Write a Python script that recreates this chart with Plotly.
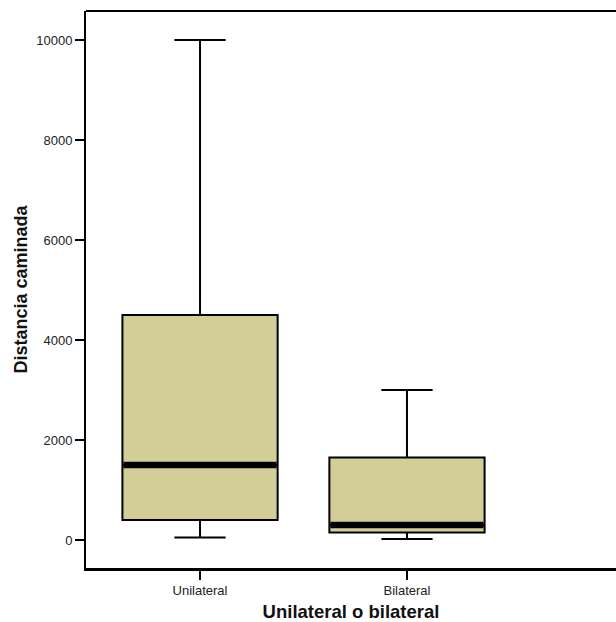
import plotly.graph_objects as go

categories = ["Unilateral", "Bilateral"]
lower_whisker = [50, 20]
q1 = [400, 150]
median = [1500, 300]
q3 = [4500, 1650]
upper_whisker = [10000, 3000]
y_ticks = [0, 2000, 4000, 6000, 8000, 10000]

fill = "#D3CE98"
box_w = 0.75
font = "Liberation Sans, Arial, sans-serif"

fig = go.Figure()
for i, c in enumerate(categories):
    fig.add_trace(go.Box(
        x=[i], q1=[q1[i]], median=[median[i]], q3=[q3[i]],
        lowerfence=[lower_whisker[i]], upperfence=[upper_whisker[i]],
        width=box_w, whiskerwidth=0.33, fillcolor=fill,
        line=dict(color="black", width=2), boxpoints=False,
        showlegend=False, hoverinfo="skip", name=c,
    ))
    fig.add_trace(go.Scatter(
        x=[i - box_w / 2 + 0.005, i + box_w / 2 - 0.005], y=[median[i], median[i]],
        mode="lines", line=dict(color="black", width=6.5),
        showlegend=False, hoverinfo="skip",
    ))

fig.update_layout(
    width=616, height=622,
    margin=dict(l=86, r=0, t=11, b=54),
    paper_bgcolor="white", plot_bgcolor="white",
    font=dict(family=font, color="#111"),
    shapes=[dict(type="line", xref="paper", yref="paper", x0=0, x1=1, y0=1, y1=1,
                 line=dict(color="black", width=2))],
)
fig.update_xaxes(
    range=[-0.551, 2.010], tickvals=[0, 1], ticktext=categories,
    showline=True, linecolor="black", linewidth=2.5,
    ticks="outside", ticklen=9, tickwidth=1.5, tickcolor="black",
    tickfont=dict(size=13, family=font, color="#222"),
    showgrid=False, zeroline=False,
    title=dict(text="<b>Unilateral o bilateral</b>", font=dict(size=18.5, family=font, color="#111"), standoff=9),
)
fig.update_yaxes(
    range=[-560, 10580], tickvals=y_ticks, ticktext=[str(v) for v in y_ticks],
    showline=True, linecolor="black", linewidth=2,
    ticks="outside", ticklen=9, tickwidth=1.5, tickcolor="black",
    tickfont=dict(size=13, family=font, color="#222"),
    showgrid=False, zeroline=False,
    title=dict(text="<b>Distancia caminada</b>", font=dict(size=18, family=font, color="#111"), standoff=4),
)

fig.write_html("out.html")
